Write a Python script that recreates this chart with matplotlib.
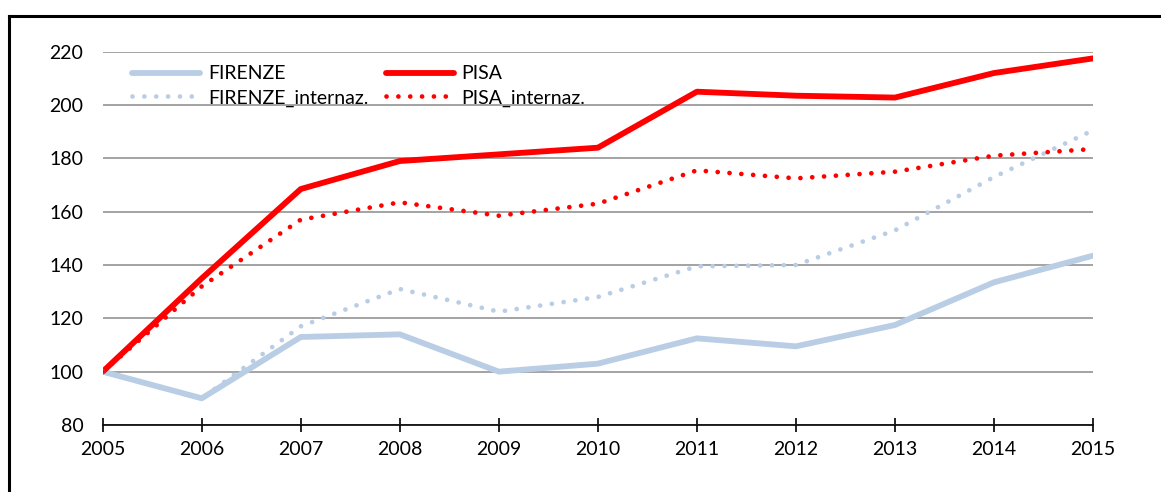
import matplotlib
matplotlib.use("Agg")
import matplotlib.pyplot as plt
from matplotlib.lines import Line2D

years = [2005, 2006, 2007, 2008, 2009, 2010, 2011, 2012, 2013, 2014, 2015]
firenze = [100, 90, 113, 114, 100, 103, 112.5, 109.5, 117.5, 133.5, 143.5]
pisa = [100, 135, 168.5, 179, 181.5, 184, 205, 203.5, 202.8, 212, 217.5]
firenze_int = [100, 90, 117, 131, 122.5, 128, 139.5, 140, 153, 173, 190.5]
pisa_int = [100, 132, 157, 163.5, 158.5, 163, 175.5, 172.5, 175, 181, 183.5]

plt.rcParams['font.family'] = ['Lato', 'DejaVu Sans']
blue = '#B9CDE5'
red = '#FF0000'

fig = plt.figure(figsize=(11.61, 4.92), dpi=100)
ax = fig.add_axes([0.0885, 0.1362, 0.8529, 0.7587])

ax.plot(years, firenze, color=blue, lw=4.2, label='FIRENZE', solid_capstyle='round')
ax.plot(years, pisa, color=red, lw=4.2, label='PISA', solid_capstyle='round')
ax.plot(years, firenze_int, color=blue, lw=3.4, ls=(0, (0.01, 2.5)),
        dash_capstyle='round', label='FIRENZE_internaz.')
ax.plot(years, pisa_int, color=red, lw=3.4, ls=(0, (0.01, 2.5)),
        dash_capstyle='round', label='PISA_internaz.')

ax.set_xlim(2005, 2015)
ax.set_ylim(80, 220)
ax.set_xticks(years)
ax.set_yticks(range(80, 221, 20))
ax.yaxis.grid(True, color='#9C9C9C', lw=1.3)
ax.set_axisbelow(True)
for s in ['left', 'right', 'top']:
    ax.spines[s].set_visible(False)
ax.spines['bottom'].set_linewidth(1.2)
ax.tick_params(axis='x', direction='inout', length=9.5, width=1.2, pad=7, labelsize=14)
ax.tick_params(axis='y', length=0, pad=14, labelsize=14)

handles, labels = ax.get_legend_handles_labels()
order = [0, 2, 1, 3]
ax.legend([handles[i] for i in order], [labels[i] for i in order], ncol=2,
          loc='upper left', bbox_to_anchor=(0.012, 1.01), frameon=False,
          fontsize=14, handlelength=3.5, columnspacing=0.9, labelspacing=0.35,
          handletextpad=0.4)

# partial frame around the chart
fig.add_artist(Line2D([8.5 / 1161, 1.0], [1 - 15.5 / 492] * 2, color='black', lw=2.2))
fig.add_artist(Line2D([8.5 / 1161] * 2, [0, 1 - 15.5 / 492], color='black', lw=2.2))

fig.savefig('out.png', dpi=100)
